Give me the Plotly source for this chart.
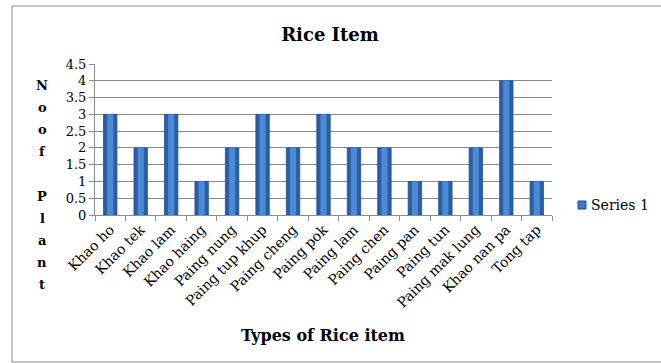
import plotly.graph_objects as go

categories = ["Khao ho", "Khao tek", "Khao lam", "Khao haing", "Paing nung",
              "Paing tup khup", "Paing cheng", "Paing pok", "Paing lam", "Paing chen",
              "Paing pan", "Paing tun", "Paing mak lung", "Khao nan pa", "Tong tap"]
values = [3, 2, 3, 1, 2, 3, 2, 3, 2, 2, 1, 1, 2, 4, 1]
series_name = "Series 1"
y_ticks = [0, 0.5, 1, 1.5, 2, 2.5, 3, 3.5, 4, 4.5]
title_text = "Rice Item"
x_title = "Types of Rice item"
y_title_lines = ["N", "o", "o", "f", "", "P", "l", "a", "n", "t"]

FONT = "DejaVu Serif"
W, H = 661, 363
L, R, T, B = 95, 109, 64, 148
pw, ph = W - L - R, H - T - B


def px_x(x):
    return (x - L) / pw


def px_y(y):
    return (H - B - y) / ph


fig = go.Figure()
fig.add_trace(go.Bar(
    x=categories, y=values, name=series_name, width=0.44, showlegend=False,
    marker=dict(color="#2A5FA8", line=dict(color="#1F4F90", width=0.8)),
))
fig.add_trace(go.Bar(
    x=categories, y=values, name=series_name, width=0.2, showlegend=False,
    hoverinfo="skip",
    marker=dict(color="#4C8AD6", line=dict(width=0)),
))

annotations = []
for i, ch in enumerate(y_title_lines):
    if not ch:
        continue
    annotations.append(dict(
        text=ch, xref="paper", yref="paper", showarrow=False,
        x=px_x(42), y=px_y(85 + i * 22.2), xanchor="center", yanchor="middle",
        font=dict(family=FONT, size=13, color="#000000", weight="bold"),
    ))
annotations.append(dict(
    text=x_title, xref="paper", yref="paper", showarrow=False,
    x=px_x(323), y=px_y(335), xanchor="center", yanchor="middle",
    font=dict(family=FONT, size=16, color="#000000", weight="bold"),
))
annotations.append(dict(
    text=series_name, xref="paper", yref="paper", showarrow=False,
    x=px_x(589), y=px_y(205), xanchor="left", yanchor="middle",
    font=dict(family=FONT, size=14, color="#000000"),
))

fig.update_layout(
    width=W, height=H,
    margin=dict(l=L, r=R, t=T, b=B, pad=0, autoexpand=False),
    paper_bgcolor="white", plot_bgcolor="white",
    barmode="overlay",
    showlegend=False,
    title=dict(text=title_text, x=330 / W, xanchor="center", y=1 - 35 / H, yanchor="middle",
               font=dict(family=FONT, size=18, color="#000000", weight="bold")),
    font=dict(family=FONT, size=13, color="#000000"),
    xaxis=dict(
        type="category", tickangle=-45, showgrid=False, showline=True, automargin=False,
        linecolor="#8C8C8C", linewidth=1, ticks="outside", tickson="boundaries",
        ticklen=5, tickcolor="#8C8C8C", tickfont=dict(family=FONT, size=14),
        range=[-0.5, len(categories) - 0.5],
    ),
    yaxis=dict(
        range=[0, 4.5], tickvals=y_ticks, ticktext=[f"{v:g}" for v in y_ticks],
        showgrid=True, gridcolor="#8C8C8C", gridwidth=1, showline=True, automargin=False,
        linecolor="#8C8C8C", linewidth=1, ticks="outside", ticklen=5,
        tickcolor="#8C8C8C", tickfont=dict(family=FONT, size=13), zeroline=False,
    ),
    annotations=annotations,
    shapes=[
        dict(type="rect", xref="paper", yref="paper",
             x0=px_x(12), x1=px_x(700), y0=px_y(362), y1=px_y(6),
             line=dict(color="#8C8C8C", width=1), fillcolor="rgba(0,0,0,0)", layer="below"),
        dict(type="rect", xref="paper", yref="paper",
             x0=px_x(578), x1=px_x(586), y0=px_y(209), y1=px_y(201),
             line=dict(color="#1F4F90", width=1), fillcolor="#3F78C4", layer="above"),
    ],
)

fig.write_html("out.html")
